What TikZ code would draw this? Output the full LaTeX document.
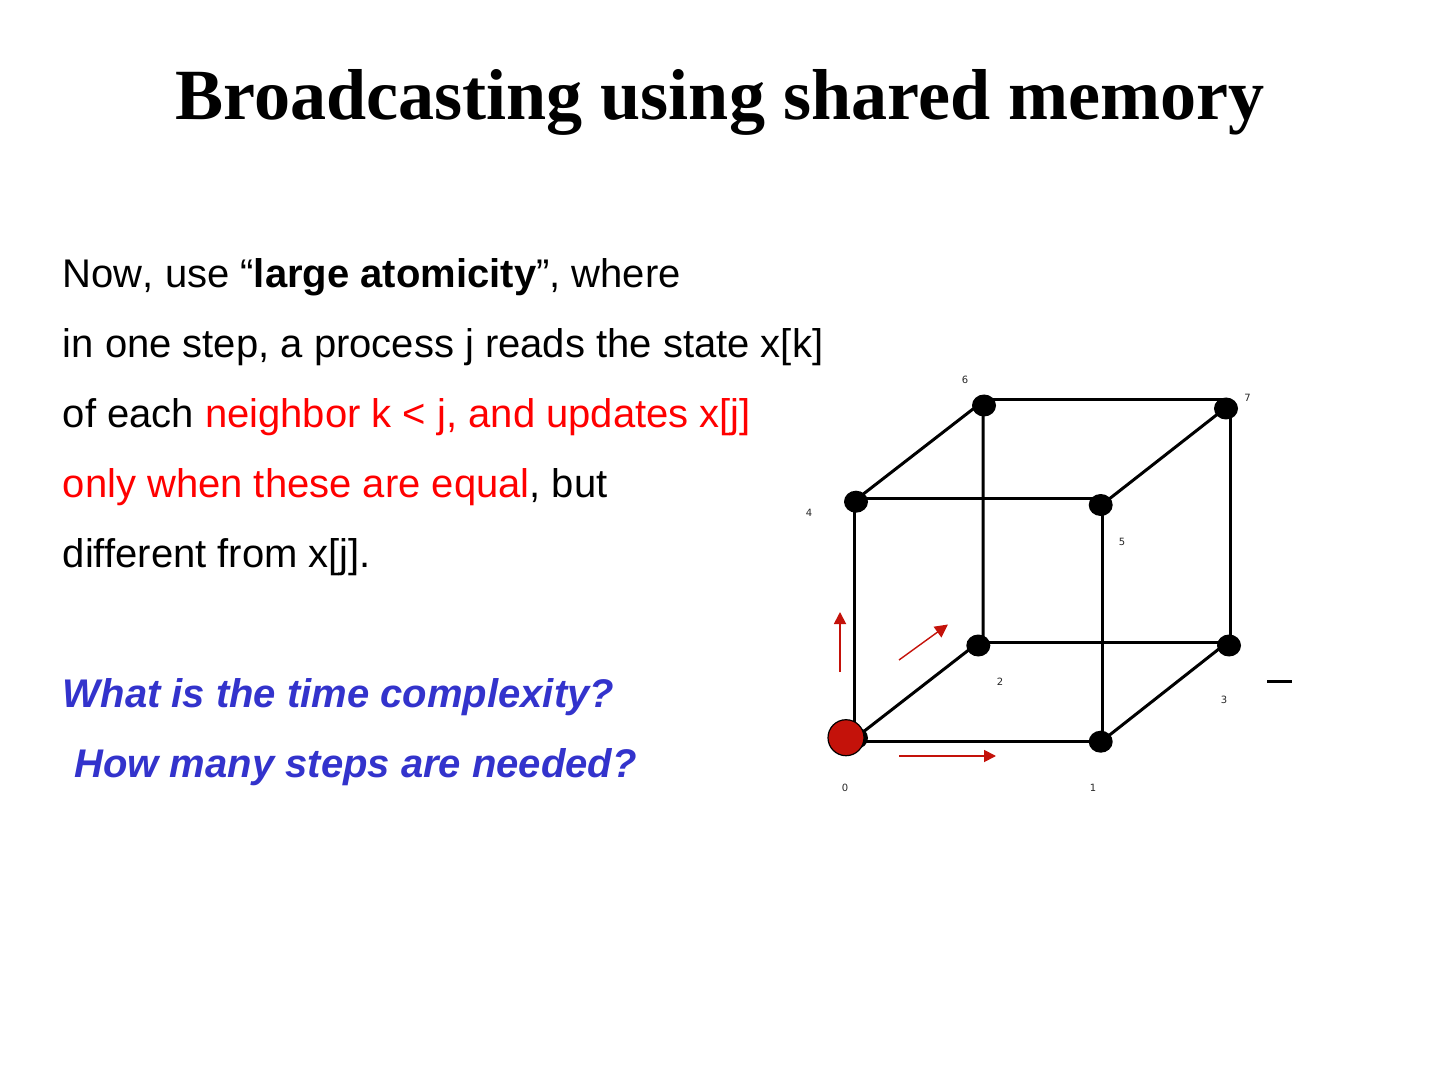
\documentclass[tikz,border=0pt]{standalone}
\usepackage{fontspec}
\setmainfont{Liberation Sans}
\newfontfamily\titlefont{Liberation Serif}
\newfontfamily\labelfont{DejaVu Sans}
\newfontfamily\nokernfont[Kerning=Off]{Liberation Sans}
\usetikzlibrary{shapes.geometric,arrows.meta,backgrounds}
\definecolor{hotred}{HTML}{FF0000}
\definecolor{quizblue}{HTML}{3333CC}
\definecolor{darkred}{HTML}{C4120A}
\tikzset{
  vertex/.style={ellipse,fill=black,draw=none,inner sep=0pt,minimum width=12pt,minimum height=11pt},
  edgeline/.style={line width=1.5pt,black},
  bodytext/.style={anchor=base west,inner sep=0pt,font=\fontsize{20}{24}\selectfont},
  numlabel/.style={inner sep=0pt,font=\labelfont\fontsize{5}{6}\selectfont,text=black!85},
  redarrow/.style={darkred,line width=0.9pt,-{Triangle[length=6pt,width=6pt]}},
  thinarrow/.style={darkred,line width=0.7pt,-{Triangle[length=6.5pt,width=6.5pt]}}
}
\begin{document}
\begin{tikzpicture}[x=0.5pt,y=-0.5pt]
\useasboundingbox (0,0) rectangle (1440,1080);
\node[anchor=base,inner sep=0pt,font=\titlefont\bfseries\fontsize{36.06}{42}\selectfont] (title) at (720,119.4) {Broadcasting using shared memory};
\node[bodytext,font=\nokernfont\fontsize{20}{24}\selectfont] (l1) at (62.4,288) {Now, use “\textbf{large atomicity}”, where};
\node[bodytext] (l2) at (62.4,358) {in one step, a process j reads the state x[k]};
\node[bodytext] (l3) at (62.4,428) {of each \textcolor{hotred}{neighbor k < j, and updates x[j]}};
\node[bodytext] (l4) at (62.4,497.5) {\textcolor{hotred}{only when these are equal}, but};
\node[bodytext] (l5) at (62.4,567.5) {different from x[j].};
\node[bodytext,text=quizblue,font=\fontsize{20}{24}\selectfont\bfseries\itshape] (q1) at (62.4,707.5) {What is the time complexity?};
\node[bodytext,text=quizblue,font=\fontsize{20}{24}\selectfont\bfseries\itshape] (q2) at (74,777.5) {How many steps are needed?};
\node[vertex] (n0) at (856,738) {};
\node[vertex] (n1) at (1100.7,741.7) {};
\node[vertex] (n2) at (978.3,645.5) {};
\node[vertex] (n3) at (1229,645.5) {};
\node[vertex] (n4) at (856,501.7) {};
\node[vertex] (n5) at (1100.7,505) {};
\node[vertex] (n6) at (984,405.5) {};
\node[vertex] (n7) at (1226,408.5) {};
\begin{scope}[on background layer]
  \draw[edgeline] ([shift={(0,-6)}]n6.center) -- ([shift={(0,-9)}]n7.center);
  \draw[edgeline] ([shift={(0,-3.7)}]n4.center) -- ([shift={(0,-7)}]n5.center);
  \draw[edgeline] ([shift={(0,-3.5)}]n2.center) -- ([shift={(0,-3.5)}]n3.center);
  \draw[edgeline] ([shift={(0,3.5)}]n0.center) -- ([shift={(0,-0.2)}]n1.center);
  \draw[edgeline] ([shift={(-1.5,0)}]n4.center) -- ([shift={(-1.5,0)}]n0.center);
  \draw[edgeline] ([shift={(1.8,0)}]n5.center) -- ([shift={(1.8,0)}]n1.center);
  \draw[edgeline] ([shift={(-1,0)}]n6.center) -- ([shift={(4.7,0)}]n2.center);
  \draw[edgeline] ([shift={(4,0)}]n7.center) -- ([shift={(1,0)}]n3.center);
  \draw[edgeline] ([shift={(0,-2)}]n4.center) -- ([shift={(0,-5)}]n6.center);
  \draw[edgeline] ([shift={(0,-0.5)}]n0.center) -- ([shift={(0,-3)}]n2.center);
  \draw[edgeline] ([shift={(0,0.3)}]n1.center) -- ([shift={(0,-4.5)}]n3.center);
  \draw[edgeline] ([shift={(0,0.6)}]n5.center) -- ([shift={(0,-1)}]n7.center);
\end{scope}
\node[circle,fill=darkred,draw=black,line width=0.6pt,inner sep=0pt,minimum size=18pt] (src) at (846,737.7) {};
\node[numlabel] (t0) at (845,788) {0};
\node[numlabel] (t1) at (1093,788) {1};
\node[numlabel] (t2) at (1000,682) {2};
\node[numlabel] (t3) at (1224,700) {3};
\node[numlabel] (t4) at (809,513) {4};
\node[numlabel] (t5) at (1122,542) {5};
\node[numlabel] (t6) at (965,380) {6};
\node[numlabel] (t7) at (1247.5,398) {7};
\coordinate (a1s) at (840,672); \coordinate (a1e) at (840,612);
\coordinate (a2s) at (899,660); \coordinate (a2e) at (948,624.5);
\coordinate (a3s) at (899,756); \coordinate (a3e) at (996,756);
\coordinate (das) at (1267,681.3); \coordinate (dae) at (1292,681.3);
\draw[redarrow] (a1s) -- (a1e);
\draw[thinarrow] (a2s) -- (a2e);
\draw[redarrow] (a3s) -- (a3e);
\draw[line width=1.3pt] (das) -- (dae);
\end{tikzpicture}
\end{document}
